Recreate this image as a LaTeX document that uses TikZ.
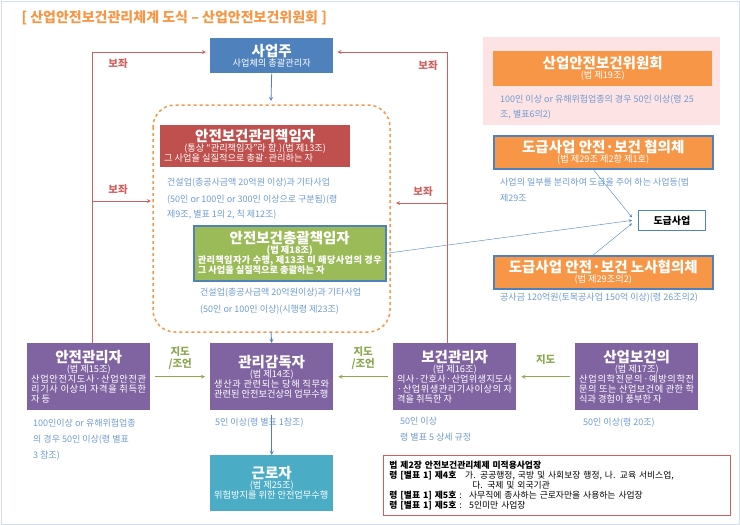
\documentclass[tikz,border=0pt]{standalone}
\usepackage{fontspec}
\setmainfont{Noto Sans CJK KR}
\XeTeXlinebreaklocale "ko"
\XeTeXlinebreakskip=0pt plus 1pt
\usetikzlibrary{positioning,calc}
\definecolor{titleor}{HTML}{F79646}
\definecolor{bossblue}{HTML}{4F81BD}
\definecolor{mgrred}{HTML}{C0504D}
\definecolor{chiefgreen}{HTML}{9BBB59}
\definecolor{staffpurple}{HTML}{8064A2}
\definecolor{workcyan}{HTML}{4BACC6}
\definecolor{notegray}{HTML}{6F9BD0}
\definecolor{assistred}{HTML}{D06060}
\definecolor{pinkbg}{HTML}{FDE3E3}
\newcommand{\boxhead}[2]{{\centering{\fontsize{14.5}{17}\selectfont\bfseries #1\par}#2\par}}
\begin{document}
\begin{tikzpicture}
    [x=1pt,y=-1pt,
     box/.style={anchor=north west,minimum width=#1,text width=#1-8pt,align=justify,
        text=white,font=\fontsize{9.2}{10}\selectfont,inner sep=3pt,minimum height=34pt},
     box/.default=123pt,
     note/.style={anchor=west,text=notegray,font=\fontsize{9}{9}\selectfont,inner sep=0pt},
     down/.style={->,>=stealth,bossblue,thick},
     assist/.style={->,>=stealth,assistred,thick},
     advise/.style={->,>=stealth,chiefgreen!90!black,thick},
     lbl/.style={font=\fontsize{10.5}{12}\selectfont\bfseries,align=center}]
\useasboundingbox (0,0) rectangle (740,525);
\draw [bossblue!25,thick] (1,1) rectangle (739,524);
\node [anchor=west,text=titleor,font=\fontsize{14}{15}\selectfont\bfseries] (title) at (18,18)
    {[ 산업안전보건관리체계 도식 – 산업안전보건위원회 ]};
% top
\path
    (210,38) node [box,fill=bossblue,minimum height=35pt] (owner) {\boxhead{사업주}{사업체의 총괄관리자}}
    (160,125) node [box=190pt,fill=mgrred,minimum height=42pt] (head)
        {\boxhead{안전보건관리책임자}{(통상 “관리책임자”라 함.)(법 제13조)}그 사업을 실질적으로 총괄·관리하는 자}
    (193,225) node [box=192pt,fill=chiefgreen,draw=bossblue,line width=1.5pt,minimum height=55pt] (chief)
        {\bfseries\boxhead{안전보건총괄책임자}{(법 제18조)}관리책임자가 수행, 제13조 미 해당사업의 경우 그 사업을 실질적으로 총괄하는 자};
\node [note] at (167,183) {건설업(총공사금액 20억원 이상)과 기타사업};
\node [note] at (167,200) {(50인 or 100인 or 300인 이상으로 구분됨)(령};
\node [note] at (167,215) {제9조, 별표 1의 2, 칙 제12조)};
\node [note] at (200,293) {건설업(총공사금액 20억원이상)과 기타사업};
\node [note] at (200,310) {(50인 or 100인 이상)(시행령 제23조)};
\draw [titleor,dashed,line width=1.5pt,rounded corners=22pt] (153,105) rectangle (390,332);
\coordinate (groupN) at (271,101);
\coordinate (groupS) at (271,332);
\draw [down] (owner.south) -- (groupN);
% right column
\fill [pinkbg] (483,37) rectangle (720,125);
\path
    (493,51) node [box=219pt,fill=titleor,minimum height=35pt] (comm) {\boxhead{산업안전보건위원회}{(법 제19조)}}
    (493,135) node [box=219pt,fill=titleor,draw=bossblue,line width=1.5pt,minimum height=33pt] (council)
        {\boxhead{도급사업 안전·보건 협의체}{(법 제29조 제2항 제1호)}}
    (493,255) node [box=219pt,fill=titleor,draw=bossblue,line width=1.5pt,minimum height=33pt] (labor)
        {\boxhead{도급사업 안전·보건 노사협의체}{(법 제29조의2)}}
    (638,210) node [anchor=north west,minimum width=67pt,minimum height=20pt,fill=white,draw=bossblue,thick,
        font=\fontsize{10}{11}\selectfont\bfseries] (contract) {도급사업};
\node [note] at (500,100) {100인 이상 or 유해위험업종의 경우 50인 이상(령 25};
\node [note] at (500,115) {조, 별표6의2)};
\node [note] at (500,183) {사업의 일부를 분리하여 도급을 주어 하는 사업등(법};
\node [note] at (500,198) {제29조};
\node [note] at (500,298) {공사금 120억원(토목공사업 150억 이상)(령 26조의2)};
\draw [down,thin] ($(council.south)+(-10,0)$) -- ($(contract.west)+(-6,-3)$);
\draw [down,thin] ($(labor.north)+(-10,0)$) -- ($(contract.west)+(-6,3)$);
\draw [down,thin] (chief.east) -- ($(contract.west)+(-6,0)$);
% bottom row
\path
    (27,343) node [box,fill=staffpurple,minimum height=67pt] (safety)
        {\boxhead{안전관리자}{(법 제15조)}산업안전지도사·산업안전관리기사 이상의 자격을 취득한 자 등}
    (210,343) node [box,fill=staffpurple,minimum height=67pt] (super)
        {\boxhead{관리감독자}{(법 제14조)}생산과 관련되는 당해 직무와 관련된 안전보건상의 업무수행}
    (393,343) node [box,fill=staffpurple,minimum height=67pt] (health)
        {\boxhead{보건관리자}{(법 제16조)}의사·간호사·산업위생지도사·산업위생관리기사이상의 자격을 취득한 자}
    (575,343) node [box,fill=staffpurple,minimum height=67pt] (doctor)
        {\boxhead{산업보건의}{(법 제17조)}산업의학전문의·예방의학전문의 또는 산업보건에 관한 학식과 경험이 풍부한 자}
    (210,455) node [box,fill=workcyan,minimum height=56pt] (worker)
        {\boxhead{근로자}{(법 제25조)}위험방지를 위한 안전업무수행};
\node [note] at (33,423) {100인이상 or 유해위험업종};
\node [note] at (33,440) {의 경우 50인 이상(령 별표};
\node [note] at (33,456) {3 참조)};
\node [note] at (215,423) {5인 이상(령 별표 1참조)};
\node [note] at (400,421) {50인 이상};
\node [note] at (400,437) {령 별표 5 상세 규정};
\node [note] at (583,423) {50인 이상(령 20조)};
\draw [down] (groupS) -- (super.north);
\draw [down] ($(super.south)+(0,5)$) -- (worker.north);
\draw [advise] ($(safety.east)+(5,0)$) -- node [above=4pt,lbl,text=chiefgreen!90!black] {지도\\/조언} ($(super.west)+(-5,0)$);
\draw [advise] ($(health.west)+(-5,0)$) -- node [above=4pt,lbl,text=chiefgreen!90!black] {지도\\/조언} ($(super.east)+(5,0)$);
\draw [advise] ($(doctor.west)+(-5,0)$) -- node [above=8pt,lbl,text=chiefgreen!90!black] {지도} ($(health.east)+(5,0)$);
% assist lines
\coordinate (leftTop) at (92,52);
\coordinate (rightTop) at (447,52);
\draw [assist] (safety.north -| leftTop) -- (leftTop) -- ($(owner.west |- leftTop)+(-4,0)$);
\draw [assist] (health.north -| rightTop) -- (rightTop) -- ($(owner.east |- rightTop)+(4,0)$);
\draw [assist] (92,201) -- (151,201);
\draw [assist] (447,203) -- (396,203);
\node [lbl,text=assistred] (as1) at (118,64) {보좌};
\node [lbl,text=assistred] (as2) at (118,190) {보좌};
\node [lbl,text=assistred] (as3) at (428,66) {보좌};
\node [lbl,text=assistred] (as4) at (423,192) {보좌};
% exempt box
\node [anchor=north west,draw=assistred,thick,minimum width=347pt,text width=335pt,minimum height=60pt,align=left,
    font=\fontsize{8.8}{10}\selectfont,inner sep=5pt] (exempt) at (383,455)
    {\textbf{법 제2장 안전보건관리체제 미적용사업장}\\
     \textbf{령 [별표 1] 제4호} \ \ 가. 공공행정, 국방 및 사회보장 행정, 나. 교육 서비스업,\\
     \hspace{83pt}다. 국제 및 외국기관\\
     \textbf{령 [별표 1] 제5호} : \ 사무직에 종사하는 근로자만을 사용하는 사업장\\
     \textbf{령 [별표 1] 제5호} : \ 5인미만 사업장};
\end{tikzpicture}
\end{document}
